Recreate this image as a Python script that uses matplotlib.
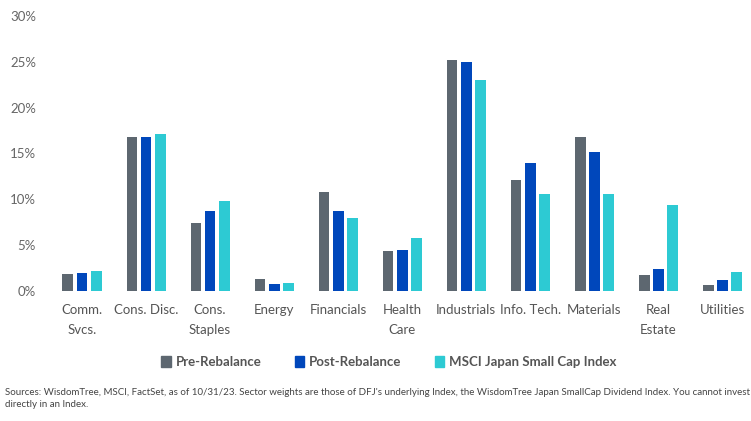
import numpy as np
import matplotlib.pyplot as plt
from matplotlib.patches import Patch

# sector weights (%)
sectors = ['Comm.\nSvcs.', 'Cons. Disc.', 'Cons.\nStaples', 'Energy', 'Financials',
           'Health\nCare', 'Industrials', 'Info. Tech.', 'Materials', 'Real\nEstate', 'Utilities']
pre_rebalance = [1.9, 16.8, 7.4, 1.3, 10.8, 4.4, 25.2, 12.1, 16.8, 1.7, 0.7]
post_rebalance = [2.0, 16.8, 8.7, 0.8, 8.7, 4.5, 25.0, 14.0, 15.2, 2.4, 1.2]
msci_small_cap = [2.2, 17.1, 9.8, 0.9, 8.0, 5.8, 23.0, 10.6, 10.6, 9.4, 2.1]
series_names = ['Pre-Rebalance', 'Post-Rebalance', 'MSCI Japan Small Cap Index']
colors = ['#5d6770', '#0047bb', '#2dcad3']
y_ticks = [0, 5, 10, 15, 20, 25, 30]

fig = plt.figure(figsize=(7.51, 4.21), dpi=100)
ax = fig.add_axes([50 / 751, 130 / 421, 701 / 751, 275 / 421])

x = np.arange(len(sectors))
w = 0.17
step = 0.22
for i, (vals, c) in enumerate(zip([pre_rebalance, post_rebalance, msci_small_cap], colors)):
    ax.bar(x + (i - 1) * step, vals, width=w, color=c)

ax.set_xlim(-0.5, len(sectors) - 0.55)
ax.set_ylim(0, 30)
ax.set_yticks(y_ticks)
ax.set_yticklabels([f'{t}%' for t in y_ticks], fontsize=9.5, color='#666666', family='Lato')
ax.set_xticks(x)
ax.set_xticklabels(sectors, fontsize=9.5, color='#555555', family='Lato', linespacing=1.8)
ax.tick_params(length=0, axis='y', pad=10)
ax.tick_params(length=0, axis='x', pad=9)
for s in ax.spines.values():
    s.set_visible(False)

handles = [Patch(color=c, label=n) for c, n in zip(colors, series_names)]
fig.legend(handles=handles, loc='center', bbox_to_anchor=(389 / 751, 1 - 362 / 421),
           ncol=3, frameon=False, handlelength=0.7, handleheight=0.9, handletextpad=0.4,
           columnspacing=2.5, prop={'family': 'Lato', 'weight': 'bold', 'size': 9.5},
           labelcolor='#555555')

fig.text(5 / 751, 1 - 388 / 421,
         "Sources: WisdomTree, MSCI, FactSet, as of 10/31/23. Sector weights are those of DFJ's underlying Index, "
         "the WisdomTree Japan SmallCap Dividend Index. You cannot invest\ndirectly in an Index.",
         fontsize=7.0, color='#444444', family='Lato', va='top', linespacing=1.4)

fig.savefig('out.png', dpi=100)
